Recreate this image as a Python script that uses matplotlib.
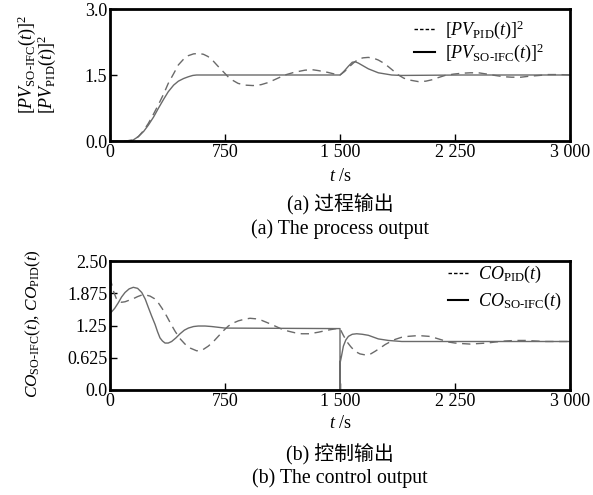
import matplotlib
matplotlib.use("Agg")
import matplotlib.pyplot as plt
from matplotlib.lines import Line2D

plt.rcParams['font.family'] = ['Liberation Serif', 'Noto Sans CJK SC']
plt.rcParams['mathtext.fontset'] = 'custom'
plt.rcParams['mathtext.rm'] = 'Liberation Serif'
plt.rcParams['mathtext.it'] = 'Liberation Serif:italic'
plt.rcParams['mathtext.bf'] = 'Liberation Serif:bold'

# ---------------- data ----------------
x_ticks = [0, 750, 1500, 2250, 3000]
x_ticklabels = ["0", "750", "1 500", "2 250", "3 000"]
pv_yticks = [0.0, 1.5, 3.0]
pv_yticklabels = ["0.0", "1.5", "3.0"]
co_yticks = [0.0, 0.625, 1.25, 1.875, 2.5]
co_yticklabels = ["0.0", "0.625", "1.25", "1.875", "2.50"]

t_pv_so = [0, 100, 150, 185, 220, 250, 285, 315, 350, 380, 415, 446, 480, 511, 540, 565, 600,
           1500, 1510, 1530, 1555, 1580, 1600, 1620, 1685, 1750, 1837, 1900, 2300, 3000]
pv_so = [0, 0, 0.02, 0.1, 0.22, 0.36, 0.55, 0.74, 0.95, 1.12, 1.27, 1.36, 1.42, 1.46, 1.49, 1.5, 1.5,
         1.5, 1.53, 1.60, 1.70, 1.79, 1.80, 1.77, 1.64, 1.55, 1.50, 1.49, 1.50, 1.50]

t_pv_pid = [0, 100, 150, 185, 220, 250, 285, 315, 350, 380, 415, 446, 480, 511, 545, 580, 610, 639, 670, 704,
            740, 770, 800, 835, 880, 933, 985, 1033, 1090, 1141, 1200, 1272, 1320, 1359, 1420, 1478, 1500, 1530,
            1555, 1590, 1620, 1650, 1685, 1720, 1750, 1785, 1815, 1850, 1881, 1915, 1946, 2011, 2060, 2098, 2140,
            2185, 2240, 2294, 2350, 2403, 2460, 2511, 2570, 2620, 2680, 2729, 2800, 2859, 2930, 3000]
pv_pid = [0, 0, 0.02, 0.1, 0.24, 0.4, 0.62, 0.82, 1.07, 1.31, 1.53, 1.73, 1.86, 1.94, 1.98, 1.99, 1.97, 1.92,
          1.83, 1.70, 1.57, 1.46, 1.38, 1.31, 1.27, 1.26, 1.28, 1.33, 1.42, 1.50, 1.56, 1.61, 1.62, 1.60, 1.56,
          1.51, 1.50, 1.58, 1.67, 1.78, 1.86, 1.89, 1.90, 1.88, 1.84, 1.77, 1.69, 1.59, 1.50, 1.43, 1.39, 1.35,
          1.36, 1.39, 1.44, 1.49, 1.52, 1.54, 1.55, 1.55, 1.52, 1.49, 1.46, 1.45, 1.45, 1.47, 1.49, 1.51, 1.51, 1.50]

t_co_so = [0, 30, 54, 75, 98, 125, 152, 180, 207, 230, 250, 272, 294, 310, 326, 342, 359, 380, 402, 430,
           457, 485, 511, 545, 576, 620, 663, 750, 1500, 1500, 1501, 1510, 1522, 1538, 1555, 1580, 1609, 1645,
           1685, 1750, 1816, 1903, 2100, 3000]
co_so = [1.48, 1.58, 1.69, 1.80, 1.89, 1.96, 1.99, 1.97, 1.89, 1.76, 1.60, 1.43, 1.27, 1.13, 1.01, 0.95,
         0.91, 0.91, 0.94, 1.01, 1.09, 1.16, 1.20, 1.23, 1.24, 1.24, 1.23, 1.20, 1.19, 0.0, 0.53, 0.66, 0.85,
         0.97, 1.04, 1.08, 1.09, 1.08, 1.06, 0.99, 0.96, 0.94, 0.94, 0.94]

t_co_pid = [0, 22, 40, 54, 75, 98, 125, 152, 180, 207, 235, 261, 290, 315, 340, 370, 397, 424, 455, 489,
            525, 565, 600, 641, 675, 706, 740, 772, 805, 837, 875, 913, 950, 989, 1030, 1076, 1120, 1163, 1205,
            1250, 1300, 1359, 1420, 1478, 1500, 1520, 1544, 1570, 1598, 1630, 1664, 1695, 1729, 1760, 1794,
            1825, 1859, 1900, 1946, 1990, 2033, 2080, 2120, 2165, 2207, 2250, 2294, 2350, 2403, 2460, 2511,
            2580, 2642, 2710, 2772, 2840, 2903, 2960, 3000]
co_pid = [2.18, 1.92, 1.78, 1.73, 1.70, 1.71, 1.74, 1.77, 1.81, 1.84, 1.84, 1.82, 1.77, 1.69, 1.58, 1.43,
          1.28, 1.14, 1.00, 0.89, 0.81, 0.76, 0.77, 0.85, 0.94, 1.04, 1.15, 1.24, 1.30, 1.34, 1.37, 1.39, 1.38,
          1.35, 1.30, 1.24, 1.18, 1.14, 1.11, 1.09, 1.09, 1.12, 1.16, 1.19, 1.19, 1.07, 0.94, 0.84, 0.75, 0.70,
          0.68, 0.69, 0.75, 0.81, 0.88, 0.93, 0.98, 1.02, 1.04, 1.05, 1.05, 1.04, 1.01, 0.97, 0.93, 0.91, 0.90,
          0.89, 0.90, 0.91, 0.93, 0.95, 0.96, 0.96, 0.95, 0.94, 0.94, 0.94, 0.94]

# ---------------- figure ----------------
W, H = 593, 495
fig = plt.figure(figsize=(W / 100, H / 100), dpi=100)

def ax_rect(l, t, r, b):
    return [l / W, 1 - b / H, (r - l) / W, (b - t) / H]

ax1 = fig.add_axes(ax_rect(110, 9, 570, 141))
ax2 = fig.add_axes(ax_rect(110, 261, 570, 390))

curve_col = '#6a6a6a'
FS = 13
CAP = 14.3

def style(ax, yt, ytl, ylim):
    ax.set_xlim(0, 3000)
    ax.set_ylim(*ylim)
    ax.set_xticks(x_ticks)
    ax.set_xticklabels(x_ticklabels)
    ax.set_yticks(yt)
    ax.set_yticklabels(ytl)
    ax.tick_params(direction='in', length=5, width=1, labelsize=FS, pad=2)
    for s in ax.spines.values():
        s.set_linewidth(2)

ax1.plot(t_pv_pid, pv_pid, color=curve_col, lw=1.0, dashes=(6, 4))
ax1.plot(t_pv_so, pv_so, color=curve_col, lw=1.0)
style(ax1, pv_yticks, pv_yticklabels, (0, 3.0))

ax2.plot(t_co_pid, co_pid, color=curve_col, lw=1.0, dashes=(6, 4))
ax2.plot(t_co_so, co_so, color=curve_col, lw=1.0)
style(ax2, co_yticks, co_yticklabels, (0, 2.5))

h_dash = Line2D([], [], color='black', lw=1.0, dashes=(2.5, 1.5))
h_solid = Line2D([], [], color='black', lw=1.5)

ax1.legend([h_dash, h_solid],
           [r"$[PV_{\mathrm{PID}}(t)]^2$", r"$[PV_{\mathrm{SO\text{-}IFC}}(t)]^2$"],
           loc='upper left', bbox_to_anchor=(0.645, 0.98), frameon=False, fontsize=FS,
           handlelength=1.15, handletextpad=0.55, labelspacing=0.0, borderaxespad=0)
ax2.legend([h_dash, h_solid],
           [r"$CO_{\mathrm{PID}}(t)$", r"$CO_{\mathrm{SO\text{-}IFC}}(t)$"],
           loc='upper left', bbox_to_anchor=(0.718, 1.03), frameon=False, fontsize=FS,
           handlelength=1.15, handletextpad=0.55, labelspacing=0.3, borderaxespad=0)

def ftext(x, y, s, fs=CAP, **kw):
    fig.text(x / W, 1 - y / H, s, ha='center', va='center', fontsize=fs, **kw)

fig.text(37 / W, 1 - 114 / H,
         r"$[PV_{\mathrm{SO\text{-}IFC}}(t)]^2$" + "\n" + r"$[PV_{\mathrm{PID}}(t)]^2$",
         rotation=90, ha='center', va='bottom', multialignment='left',
         linespacing=0.85, fontsize=13)
ftext(33, 324, r"$CO_{\mathrm{SO\text{-}IFC}}(t)$, $CO_{\mathrm{PID}}(t)$", fs=12.4, rotation=90)

ftext(340, 176, r"$t$ /s", fs=FS)
ftext(340, 205, "(a) 过程输出")
ftext(340, 229, "(a) The process output")
ftext(340, 424, r"$t$ /s", fs=FS)
ftext(340, 455, "(b) 控制输出")
ftext(340, 478, "(b) The control output")

fig.savefig("out.png", dpi=100)
